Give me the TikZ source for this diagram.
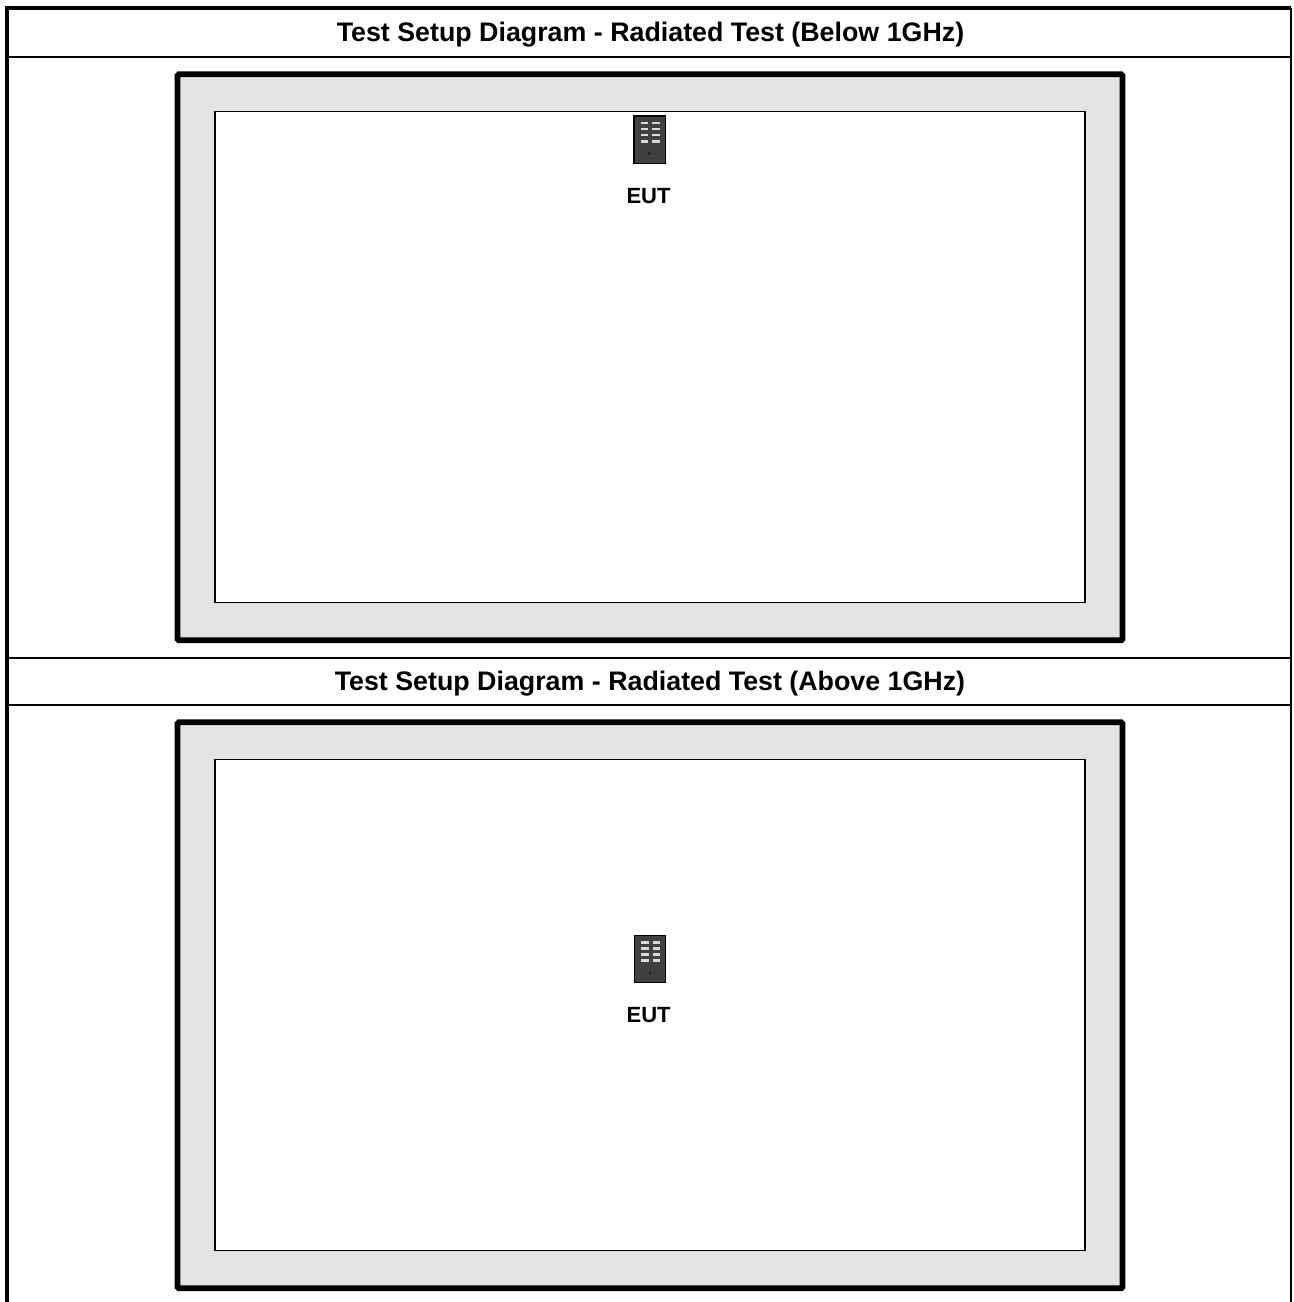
\documentclass[tikz,border=0pt]{standalone}
\usepackage{fontspec}
\setmainfont{Liberation Sans}
\usepackage{xcolor}
\usetikzlibrary{positioning}
\definecolor{chambergray}{HTML}{E4E4E4}
\definecolor{devicegray}{HTML}{404040}
\newcommand{\eutslots}[1]{%
  \foreach \row in {0,1,2,3} {
    \fill[slotmark] ([xshift=-6.6pt,yshift={11.6pt-4.6pt*\row}]#1.center) rectangle +(5.8pt,2pt);
    \fill[slotmark] ([xshift=1.9pt,yshift={11.6pt-4.6pt*\row}]#1.center) rectangle +(5.8pt,2pt);
  }
  \fill[red!35!black] ([yshift=-10.4pt]#1.center) circle (1pt);
}

\begin{document}
\begin{tikzpicture}[
  x=0.75pt, y=-0.75pt,
  titlebox/.style={inner sep=0pt, font=\bfseries\fontsize{20.1pt}{24pt}\selectfont},
  chamber/.style={rectangle, draw=black, line width=4.3pt, rounded corners=1pt, fill=chambergray,
              minimum width=708.75pt, minimum height=424.5pt, inner sep=0pt},
  testarea/.style={rectangle, draw=black, line width=1pt, fill=white,
              minimum width=652.5pt, minimum height=368.25pt, inner sep=0pt},
  device/.style={rectangle, draw=black, line width=1pt, fill=devicegray,
              minimum width=23.5pt, minimum height=35.5pt, inner sep=0pt},
  eutlabel/.style={inner sep=0pt, font=\bfseries\fontsize{16.5pt}{20pt}\selectfont},
  slotmark/.style={fill=white!85!black},
  rowline/.style={draw=black, line width=1.5pt},
  tableline/.style={draw=black, line width=3pt}
]
  \useasboundingbox (0,0) rectangle (1293,1302);

  % table
  \coordinate (tl) at (7,8);
  \coordinate (tr) at (1291,8);
  \coordinate (bl) at (7,1302);
  \coordinate (br) at (1291,1302);
  \draw[rowline] (7,57) -- (1291,57);
  \draw[rowline] (7,658) -- (1291,658);
  \draw[rowline] (7,705) -- (1291,705);
  \draw[tableline] (bl) -- (tl) -- (tr);
  \draw[rowline] (tr) -- (br);

  \node[titlebox] (titleA) at (650.5,35) {Test Setup Diagram - Radiated Test (Below 1GHz)};
  \node[titlebox] (titleB) at (650,684) {Test Setup Diagram - Radiated Test (Above 1GHz)};

  % below 1GHz
  \node[chamber] (chamberA) at (650,357.3) {};
  \node[testarea] (areaA) at (650,357.3) {};
  \node[device] (eutA) at (649.5,139.7) {};
  \node[eutlabel, below=18pt of eutA, xshift=-0.75pt] (labelA) {EUT};
  \eutslots{eutA}

  % above 1GHz
  \node[chamber] (chamberB) at (650,1005.3) {};
  \node[testarea] (areaB) at (650,1005.3) {};
  \node[device] (eutB) at (650,959) {};
  \node[eutlabel, below=18pt of eutB, xshift=-1pt] (labelB) {EUT};
  \eutslots{eutB}
\end{tikzpicture}
\end{document}
